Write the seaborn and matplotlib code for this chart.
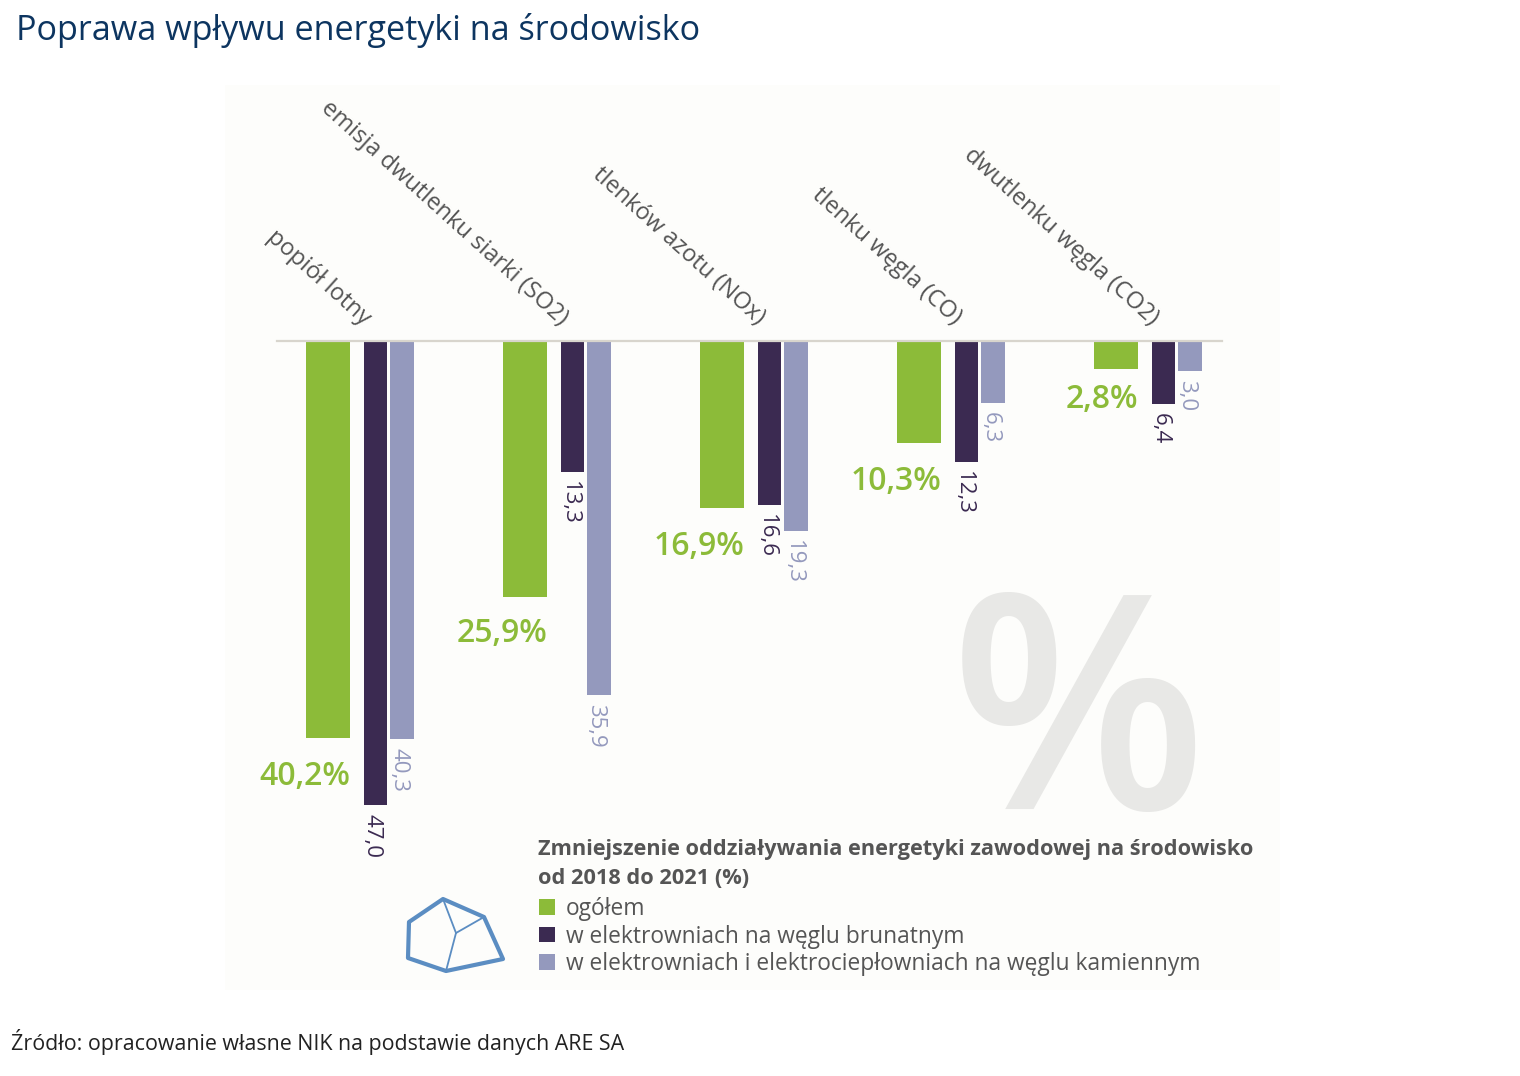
"""
Poprawa wpływu energetyki na środowisko - wykres słupkowy
"""
import numpy as np
import pandas as pd
import matplotlib
matplotlib.use('Agg')
import matplotlib.pyplot as plt
from matplotlib.patches import Polygon, Rectangle
import seaborn as sns

categories = ['popiół lotny', 'emisja dwutlenku siarki (SO2)', 'tlenków azotu (NOx)',
              'tlenku węgla (CO)', 'dwutlenku węgla (CO2)']
ogolem = [40.2, 25.9, 16.9, 10.3, 2.8]
brunatny = [47.0, 13.3, 16.6, 12.3, 6.4]
kamienny = [40.3, 35.9, 19.3, 6.3, 3.0]
series_names = ['ogółem', 'w elektrowniach na węglu brunatnym',
                'w elektrowniach i elektrociepłowniach na węglu kamiennym']

GREEN = '#8cbb39'
DARK = '#3b2a51'
LIGHT = '#9499bd'
GRAY = '#555555'

W, H = 1520, 1076
sns.set_theme(style='white')
plt.rcParams['font.family'] = ['Open Sans', 'DejaVu Sans']

fig = plt.figure(figsize=(W / 100, H / 100), dpi=100, facecolor='white')

# warstwa w pikselach na tytuł, legendę i dekoracje
bg = fig.add_axes([0, 0, 1, 1], zorder=0)
bg.set_xlim(0, W)
bg.set_ylim(H, 0)
bg.axis('off')
bg.add_patch(Rectangle((225, 85), 1055, 905, color='#fdfdfb', lw=0))

# os wykresu: 197 px na grupe, 9.87 px na jednostke
left, right, top, bottom = 277, 1222, 341, 900
ax = fig.add_axes([left / W, 1 - bottom / H, (right - left) / W, (bottom - top) / H],
                  zorder=1)
ax.patch.set_alpha(0)

pos = np.arange(len(categories))
px = 197
df = pd.DataFrame({'pos': pos, 'ogolem': ogolem, 'brunatny': brunatny, 'kamienny': kamienny})
styles = [('ogolem', 0.0, 44.5, GREEN, series_names[0]),
          ('brunatny', 47.5, 23.5, DARK, series_names[1]),
          ('kamienny', 74.0, 24.0, LIGHT, series_names[2])]

for col, off, width, color, name in styles:
    sns.barplot(x=df['pos'] + off / px, y=df[col], native_scale=True, orient='x',
                width=width / px, color=color, saturation=1, label=name,
                legend=False, ax=ax, errorbar=None, linewidth=0)

ax.set_xlim((left - 328) / px, (right - 328) / px)
ax.set_ylim((bottom - top) / 9.87, 0)
ax.set_xlabel('')
ax.set_ylabel('')
ax.set_xticks([])
ax.set_yticks([])
sns.despine(ax=ax, left=True, right=True, bottom=True, top=False)
ax.spines['top'].set_color('#d8d5cd')
ax.spines['top'].set_linewidth(1.6)


def comma(v):
    return f'{v:.1f}'.replace('.', ',')


# odstep zielonych etykiet od konca slupka (px)
green_gap = [39, 37, 39, 39, 31]

for i, p in enumerate(pos):
    # etykieta kategorii
    ax.annotate(categories[i], xy=(p, 0), xycoords='data',
                xytext=(39 * 0.72, 20 * 0.72), textcoords='offset points',
                rotation=-42, rotation_mode='anchor', ha='right', va='center',
                fontsize=17, color=GRAY)
    # wartosci
    ax.annotate(comma(ogolem[i]) + '%', xy=(p + 22 / px, ogolem[i]),
                xytext=(0, -green_gap[i] * 0.72), textcoords='offset points',
                ha='right', va='center', fontsize=23, fontweight='semibold', color=GREEN)
    ax.annotate(comma(brunatny[i]), xy=(p + 47.5 / px, brunatny[i]),
                xytext=(-3 * 0.72, -9 * 0.72), textcoords='offset points',
                ha='center', va='top', rotation=270, fontsize=16, color=DARK)
    ax.annotate(comma(kamienny[i]), xy=(p + 74 / px, kamienny[i]),
                xytext=(-3 * 0.72, -9 * 0.72), textcoords='offset points',
                ha='center', va='top', rotation=270, fontsize=16, color=LIGHT)

# warstwa gorna
top_ax = fig.add_axes([0, 0, 1, 1], zorder=2)
top_ax.set_xlim(0, W)
top_ax.set_ylim(H, 0)
top_ax.axis('off')

top_ax.text(16, 31, 'Poprawa wpływu energetyki na środowisko', fontsize=24.6,
            color='#0d3560', ha='left', va='center')
top_ax.text(11, 1042, 'Źródło: opracowanie własne NIK na podstawie danych ARE SA',
            fontsize=15.4, color='#222222', ha='left', va='center')

# duzy znak procentu w tle
bg.text(1078, 731, '%', fontsize=215, fontweight='semibold', color='#e8e8e6',
        ha='center', va='center')

# tytul legendy
top_ax.text(538, 850, 'Zmniejszenie oddziaływania energetyki zawodowej na środowisko',
            fontsize=15.7, fontweight='bold', color=GRAY, ha='left', va='center')
top_ax.text(538, 878, 'od 2018 do 2021 (%)', fontsize=15.7, fontweight='bold',
            color=GRAY, ha='left', va='center')

handles, labels = ax.get_legend_handles_labels()
leg = top_ax.legend(handles, labels, loc='upper left', frameon=False,
                    bbox_to_anchor=(530 / W, 1 - 888 / H), bbox_transform=fig.transFigure,
                    fontsize=16.4, labelcolor=GRAY, handlelength=0.68, handleheight=0.68,
                    handletextpad=0.5, labelspacing=0.15, borderaxespad=0)

# logo
outer = [(443, 899), (484, 917), (503, 959), (446, 971), (408, 958), (409, 922)]
top_ax.add_patch(Polygon(outer, closed=True, fill=False, edgecolor='#5b8dc2', lw=3,
                         joinstyle='round'))
for end in [(443, 899), (484, 917), (446, 971)]:
    top_ax.plot([456, end[0]], [933, end[1]], color='#5b8dc2', lw=1.3)

fig.savefig('out.png', dpi=100)
